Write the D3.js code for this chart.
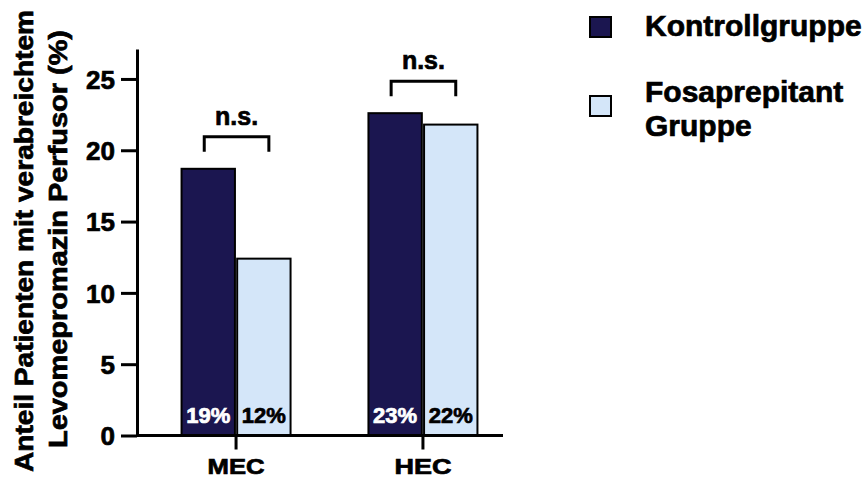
<!DOCTYPE html>
<html lang="de">
<head>
  <meta charset="UTF-8">
  <title>Levomepromazin Perfusor</title>
  <script src="https://d3js.org/d3.v7.min.js"></script>
  <style>
    body { margin: 0; background: #fff; }
    svg text { font-family: "Liberation Sans", Arial, sans-serif; font-weight: bold; fill: #000; stroke: #000; stroke-width: 0.7px; }
    .axis path, .axis line { stroke: #000; stroke-width: 3; }
  </style>
</head>
<body>
  <div id="chart"></div>
  <script>
    // Daten
    const categories = ["MEC", "HEC"];
    const series = ["Kontrollgruppe", "Fosaprepitant Gruppe"];
    const kontrollValues = [18.7, 22.6];
    const fosaValues = [12.4, 21.8];
    const yTicks = [0, 5, 10, 15, 20, 25];
    const sigLabels = ["n.s.", "n.s."];
    const colors = ["#1b1650", "#d4e6f9"];

    const width = 866, height = 486;

    const svg = d3.select("#chart")
      .append("svg")
      .attr("width", width)
      .attr("height", height);

    const y = d3.scaleLinear()
      .domain([0, 27.1])
      .range([435.5, 49]);

    const x0 = d3.scaleBand()
      .domain(categories)
      .range([137, 522])
      .paddingInner(0)
      .paddingOuter(0.03);

    const x1 = d3.scaleBand()
      .domain(series)
      .range([0, 109])
      .paddingInner(0.04);

    const rows = categories.map((c, i) => ({
      category: c,
      values: [kontrollValues[i], fosaValues[i]],
      sig: sigLabels[i]
    }));

    const groupLeft = c => x0(c) + x0.bandwidth() / 2 - 54.5;

    // Balken
    const groups = svg.selectAll(".group")
      .data(rows)
      .enter()
      .append("g")
      .attr("class", "group")
      .attr("transform", d => `translate(${groupLeft(d.category)},0)`);

    groups.selectAll("rect")
      .data(d => d.values.map((v, j) => ({ key: series[j], value: v, j })))
      .enter()
      .append("rect")
      .attr("x", d => x1(d.key))
      .attr("y", d => y(d.value))
      .attr("width", x1.bandwidth())
      .attr("height", d => y(0) - y(d.value))
      .attr("fill", d => colors[d.j])
      .attr("stroke", "#000")
      .attr("stroke-width", 2);

    groups.selectAll(".pct")
      .data(d => d.values.map((v, j) => ({ key: series[j], value: v, j })))
      .enter()
      .append("text")
      .attr("class", "pct")
      .attr("x", d => x1(d.key) + x1.bandwidth() / 2)
      .attr("y", y(0) - 13)
      .attr("text-anchor", "middle")
      .style("font-size", "22px")
      .style("fill", d => d.j === 0 ? "#fff" : "#000")
      .style("stroke", d => d.j === 0 ? "#fff" : "#000")
      .text(d => Math.round(d.value) + "%");

    // Signifikanz-Klammern
    groups.each(function(d) {
      const g = d3.select(this);
      const top = y(d3.max(d.values)) - 17;
      const xa = x1(series[0]) + x1.bandwidth() / 2 - 4;
      const xb = x1(series[1]) + x1.bandwidth() / 2 + 5;
      g.append("path")
        .attr("d", `M${xa},${top} V${top - 15} H${xb} V${top}`)
        .attr("fill", "none")
        .attr("stroke", "#000")
        .attr("stroke-width", 3);
      g.append("text")
        .attr("x", (xa + xb) / 2)
        .attr("y", top - 27)
        .attr("text-anchor", "middle")
        .style("font-size", "25px")
        .text(d.sig);
    });

    // Achsen
    const yAxis = svg.append("g")
      .attr("class", "axis")
      .attr("transform", "translate(137,0)")
      .call(d3.axisLeft(y).tickValues(yTicks).tickSize(16).tickPadding(6).tickSizeOuter(0));
    yAxis.selectAll("text").style("font-size", "26px").attr("dy", "0.36em");

    const xAxis = svg.append("g")
      .attr("class", "axis")
      .attr("transform", `translate(0,${y(0)})`)
      .call(d3.axisBottom(x0).tickSize(14).tickPadding(9).tickSizeOuter(0));
    xAxis.select(".domain").attr("d", "M137,0H503");
    xAxis.selectAll("text")
      .style("font-size", "22px")
      .attr("textLength", 57)
      .attr("lengthAdjust", "spacingAndGlyphs");

    // Y-Achsentitel
    const titleLines = ["Anteil Patienten mit verabreichtem", "Levomepromazin Perfusor (%)"];
    const titleLens = [462, 418];
    svg.selectAll(".ytitle")
      .data(titleLines)
      .enter()
      .append("text")
      .attr("class", "ytitle")
      .attr("transform", (d, i) => `translate(${33 + i * 34},${241 - i * 2}) rotate(-90)`)
      .attr("text-anchor", "middle")
      .attr("textLength", (d, i) => titleLens[i])
      .attr("lengthAdjust", "spacingAndGlyphs")
      .style("font-size", "25px")
      .text(d => d);

    // Legende
    const legendTop = [16, 95];
    const legend = svg.selectAll(".legend")
      .data(series)
      .enter()
      .append("g")
      .attr("class", "legend")
      .attr("transform", (d, i) => `translate(589,${legendTop[i]})`);

    legend.append("rect")
      .attr("x", 1)
      .attr("y", 1)
      .attr("width", 21)
      .attr("height", 20)
      .attr("fill", (d, i) => colors[i])
      .attr("stroke", "#000")
      .attr("stroke-width", 2);

    legend.append("text")
      .style("font-size", "30px")
      .attr("x", 56)
      .attr("y", (d, i) => i === 0 ? 20 : 7)
      .selectAll("tspan")
      .data(d => d.split(" "))
      .enter()
      .append("tspan")
      .attr("x", 56)
      .attr("dy", (d, i) => i === 0 ? 0 : 34)
      .text(d => d);
  </script>
</body>
</html>
